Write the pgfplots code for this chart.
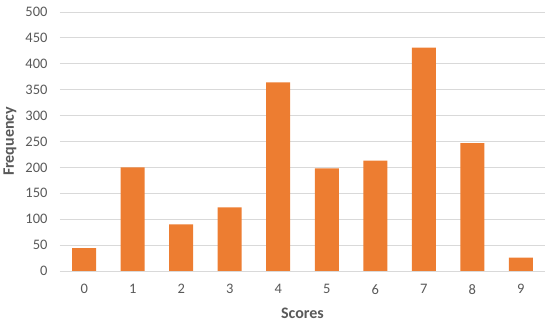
\documentclass[border=0pt]{standalone}
\usepackage{fontspec}
\setmainfont{Carlito}
\usepackage{pgfplots}
\pgfplotsset{compat=1.18}
\definecolor{barOrange}{HTML}{ED7D31}
\definecolor{gridGray}{HTML}{D9D9D9}
\definecolor{textGray}{HTML}{595959}

\begin{document}
\begin{tikzpicture}
\begin{axis}[
    name=ax,
    scale only axis,
    width=485pt, height=259pt,
    xmin=-0.5, xmax=9.5,
    ymin=0, ymax=500,
    ytick distance=50,
    xtick={0,...,9},
    ymajorgrids,
    grid style={gridGray, line width=0.9pt},
    axis line style={draw=none},
    major tick length=0pt,
    tick label style={font=\fontsize{14.5}{16}\selectfont, text=textGray},
    /pgf/number format/assume math mode=true,
    ylabel={\textbf{Frequency}},
    xlabel={\textbf{Scores}},
    label style={font=\fontsize{16}{18}\selectfont, text=textGray},
    ylabel style={at={(axis description cs:-0.103,0.5)}, anchor=center},
    xlabel style={at={(axis description cs:0.5,-0.162)}, anchor=center},
    yticklabel style={xshift=-9pt},
    xticklabel style={yshift=-10pt},
]
\addplot[ybar, bar width=24pt, fill=barOrange, draw=none] coordinates {
    (0, 44)
    (1, 200)
    (2, 90)
    (3, 123)
    (4, 364)
    (5, 198)
    (6, 213)
    (7, 431)
    (8, 247)
    (9, 26)
};
\draw[gridGray, line width=0.9pt] (axis cs:-0.5,0) -- (axis cs:9.5,0);
\end{axis}
\useasboundingbox ([xshift=-60pt, yshift=-52pt]ax.south west) rectangle ([xshift=5pt, yshift=12pt]ax.north east);
\end{tikzpicture}
\end{document}
